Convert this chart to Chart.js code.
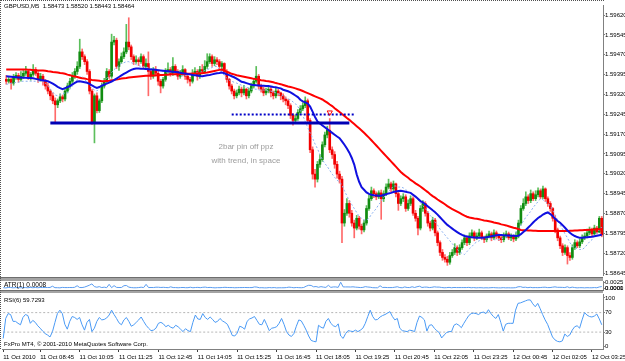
<!DOCTYPE html>
<html>
<head>
<meta charset="utf-8">
<script src="https://cdn.jsdelivr.net/npm/chart.js@4.4.0/dist/chart.umd.min.js"></script>
<style>
html, body { margin: 0; padding: 0; background: #fff; }
#wrap { position: relative; width: 625px; height: 361px; overflow: hidden; }
canvas { position: absolute; left: 0; }
.sep { position: absolute; left: 0; width: 603px; background: #a4a4a4; border-top: 1px solid #6e6e6e; box-sizing: border-box; }
#frame { position: absolute; left: 0; top: 0; width: 604px; height: 349px; border-top: 1px dotted #505050; border-left: 1px dotted #505050; box-sizing: border-box; pointer-events: none; }
</style>
</head>
<body>
<div id="wrap">
  <canvas id="mainChart" width="625" height="280" style="top:0"></canvas>
  <div class="sep" style="top:277px;height:4px"></div>
  <canvas id="atrChart" width="625" height="14" style="top:279px"></canvas>
  <div class="sep" style="top:290px;height:3px"></div>
  <canvas id="rsiChart" width="625" height="68" style="top:293px"></canvas>
  <div id="frame"></div>
</div>
<script>
// prices are stored in points above 1.58000 (1 point = 0.00001)
var PRICE_BASE = 1.58
var POINT = 0.00001

var openPts = [
1377,1370,1377,1363,1385,1392,1377,1389,1400,1407,1385,1396,1414,1400,1377,1389,1370,1352,1333,1315,
1296,1281,1296,1311,1303,1333,1352,1370,1389,1407,1426,1481,1463,1444,1407,1333,1215,1315,1259,1296,
1352,1370,1407,1389,1518,1525,1426,1444,1463,1481,1518,1500,1463,1444,1451,1444,1463,1426,1437,1407,
1389,1414,1400,1370,1352,1377,1407,1414,1400,1426,1407,1389,1400,1414,1389,1377,1370,1400,1407,1389,
1414,1407,1426,1444,1463,1437,1451,1444,1426,1437,1407,1377,1352,1333,1315,1326,1340,1326,1340,1315,
1333,1352,1370,1389,1352,1340,1326,1333,1340,1326,1315,1333,1326,1315,1303,1296,1278,1241,1222,1229,
1252,1266,1278,1296,1222,1111,1019,1000,1056,1074,1130,1167,1185,1111,1093,1056,1019,1000,834,871,
908,871,834,815,852,822,808,834,889,926,956,945,933,948,926,945,970,982,963,982,
945,908,926,933,889,908,926,871,852,815,889,908,871,834,815,845,797,760,723,704,
697,686,711,723,741,723,741,760,778,760,785,797,778,785,797,778,771,785,793,778,
797,785,778,771,785,793,778,785,774,785,834,889,908,933,919,945,926,941,956,933,
963,926,908,889,852,808,778,748,723,741,711,704,741,760,748,763,778,785,797,808,
793,815,800,852]
var highPts = [
1392,1385,1381,1396,1403,1400,1407,1411,1426,1414,1403,1433,1422,1407,1400,1396,1377,1363,1340,1326,
1307,1303,1322,1318,1340,1363,1381,1403,1418,1444,1529,1492,1470,1452,1414,1340,1322,1326,1303,1363,
1381,1418,1414,1548,1540,1533,1455,1477,1496,1585,1610,1507,1470,1466,1459,1474,1470,1455,1481,1414,
1422,1426,1407,1377,1385,1418,1440,1422,1459,1433,1414,1411,1429,1418,1396,1385,1414,1422,1414,1426,
1433,1448,1474,1474,1470,1463,1459,1452,1444,1440,1414,1381,1359,1340,1337,1352,1348,1355,1344,1344,
1363,1381,1426,1396,1359,1348,1344,1352,1348,1333,1344,1340,1329,1322,1311,1303,1285,1248,1244,1263,
1278,1289,1311,1303,1229,1122,1037,1067,1093,1141,1178,1200,1229,1122,1104,1067,1030,1011,885,926,
919,882,845,863,859,830,845,900,941,970,963,952,956,959,956,982,1000,989,993,985,
952,937,945,941,922,937,933,882,859,900,919,915,878,841,856,852,804,767,734,715,
708,723,734,756,748,752,771,789,785,797,808,804,797,811,804,785,793,804,800,808,
804,793,785,797,804,800,793,789,800,845,900,926,952,941,959,952,956,967,963,974,
967,933,915,893,863,815,785,756,752,748,722,752,771,767,774,789,797,811,819,815,
826,822,859,859]
var lowPts = [
1359,1363,1340,1355,1377,1366,1370,1381,1392,1377,1374,1389,1392,1366,1370,1355,1340,1322,1300,1285,
1215,1270,1289,1292,1296,1326,1344,1363,1381,1396,1418,1452,1433,1396,1322,1207,1137,1250,1252,1289,
1344,1363,1381,1381,1507,1418,1411,1437,1455,1474,1489,1452,1433,1437,1429,1437,1418,1418,1315,1377,
1381,1389,1355,1326,1344,1370,1400,1389,1392,1396,1377,1381,1392,1377,1363,1352,1363,1392,1374,1381,
1400,1400,1418,1437,1426,1429,1433,1418,1411,1400,1366,1340,1322,1303,1307,1318,1311,1318,1303,1307,
1326,1344,1363,1340,1329,1315,1318,1326,1311,1303,1307,1315,1300,1292,1281,1266,1229,1204,1215,1222,
1244,1259,1270,1211,1100,1000,970,989,1044,1067,1122,1156,1100,1078,1041,1004,985,760,822,863,
856,822,778,808,811,793,800,826,882,919,930,922,926,848,915,937,963,952,956,933,
882,900,915,878,882,900,863,841,789,808,878,860,822,804,808,785,748,711,693,686,
674,678,704,715,711,715,734,752,748,752,778,767,771,778,771,760,763,778,767,771,
774,767,760,763,778,771,767,763,767,778,826,882,900,908,911,919,919,933,926,926,
915,897,878,841,797,767,737,711,715,679,693,697,734,741,741,756,771,778,789,785,
789,793,797,782]
var closePts = [
1370,1377,1363,1385,1392,1377,1389,1400,1407,1385,1396,1414,1400,1377,1389,1370,1352,1333,1315,1296,
1281,1296,1311,1303,1333,1352,1370,1389,1407,1426,1481,1463,1444,1407,1333,1215,1315,1259,1296,1352,
1370,1407,1389,1518,1525,1426,1444,1463,1481,1518,1500,1463,1444,1451,1444,1463,1426,1437,1407,1389,
1414,1400,1370,1352,1377,1407,1414,1400,1426,1407,1389,1400,1414,1389,1377,1370,1400,1407,1389,1414,
1407,1426,1444,1463,1437,1451,1444,1426,1437,1407,1377,1352,1333,1315,1326,1340,1326,1340,1315,1333,
1352,1370,1389,1352,1340,1326,1333,1340,1326,1315,1333,1326,1315,1303,1296,1278,1241,1222,1229,1252,
1266,1278,1296,1222,1111,1019,1000,1056,1074,1130,1167,1185,1111,1093,1056,1019,1000,834,871,908,
871,834,815,852,822,808,834,889,926,956,945,933,948,926,945,970,982,963,982,945,
908,926,933,889,908,926,871,852,815,889,908,871,834,815,845,797,760,723,704,697,
686,711,723,741,723,741,760,778,760,785,797,778,785,797,778,771,785,793,778,797,
785,778,771,785,793,778,785,774,785,834,889,908,933,919,945,926,941,956,933,963,
926,908,889,852,808,778,748,723,741,711,704,741,760,748,763,778,785,797,808,793,
815,800,852,789]

// moving averages as seen on the chart (red slow, blue fast, light-blue dotted)
var maSlow = [
1414,1414,1414,1414,1414,1414,1414,1414,1414,1413,1413,1412,1412,1411,1411,1411,1410,1408,1407,1405,
1404,1403,1401,1400,1398,1395,1393,1390,1388,1386,1383,1381,1380,1378,1377,1375,1374,1373,1372,1370,
1370,1371,1372,1374,1375,1377,1378,1380,1381,1382,1384,1385,1386,1387,1388,1389,1390,1391,1391,1392,
1392,1393,1393,1394,1394,1395,1395,1396,1396,1396,1397,1397,1397,1398,1398,1398,1399,1399,1399,1400,
1400,1402,1403,1405,1407,1409,1411,1413,1414,1410,1406,1402,1398,1396,1393,1391,1389,1387,1385,1383,
1381,1379,1378,1376,1374,1373,1371,1370,1368,1366,1363,1361,1359,1356,1353,1350,1348,1346,1343,1340,
1337,1333,1329,1325,1321,1317,1313,1309,1305,1301,1295,1289,1282,1276,1268,1261,1254,1246,1239,1231,
1224,1216,1208,1200,1192,1184,1175,1166,1157,1147,1137,1127,1117,1107,1097,1087,1077,1067,1057,1047,
1037,1027,1019,1012,1005,997,991,984,978,972,965,958,951,943,936,930,923,917,911,905,
898,892,887,882,877,872,867,862,858,855,853,851,850,848,846,844,843,841,839,836,
834,832,829,827,825,822,819,816,814,811,808,807,807,806,806,805,805,804,804,804,
804,804,804,804,804,804,804,804,804,804,805,805,806,806,807,807,808,808,809,809,
810,810,811,811]
var maFast = [
1389,1388,1387,1386,1385,1384,1384,1383,1383,1382,1382,1381,1379,1377,1375,1374,1372,1370,1366,1361,
1355,1349,1344,1340,1344,1348,1352,1358,1364,1369,1370,1368,1366,1364,1360,1354,1349,1345,1348,1353,
1357,1361,1365,1369,1374,1380,1386,1392,1398,1403,1408,1413,1416,1418,1418,1417,1417,1416,1415,1414,
1414,1413,1412,1411,1410,1409,1408,1407,1406,1405,1404,1402,1400,1399,1397,1396,1394,1393,1392,1390,
1389,1391,1393,1394,1396,1398,1400,1401,1403,1400,1396,1393,1389,1385,1380,1374,1368,1366,1363,1360,
1357,1356,1355,1354,1353,1353,1352,1352,1350,1348,1347,1345,1343,1338,1335,1332,1328,1322,1316,1310,
1300,1294,1290,1286,1274,1255,1235,1218,1210,1203,1196,1189,1182,1175,1168,1161,1155,1143,1130,1116,
1100,1080,1055,1018,990,970,960,950,944,941,939,938,937,937,940,943,946,948,951,953,
955,956,954,952,950,948,941,934,926,917,912,905,897,890,882,875,866,856,846,836,
827,820,813,806,800,794,789,785,783,781,780,779,778,778,778,779,780,782,784,786,
788,789,789,788,787,787,786,786,785,786,792,800,808,817,826,836,845,853,859,866,
871,874,868,860,850,842,835,826,816,806,797,790,785,781,778,778,779,780,781,782,
784,786,788,790]
var maDotted = [
1359,1359,1363,1363,1366,1366,1370,1370,1370,1370,1370,1370,1370,1370,1370,1370,1363,1352,1340,1329,
1318,1315,1318,1322,1326,1326,1340,1352,1363,1377,1385,1389,1377,1366,1355,1344,1337,1333,1344,1355,
1370,1381,1392,1403,1414,1422,1429,1437,1440,1444,1444,1440,1437,1433,1429,1426,1426,1422,1422,1418,
1418,1414,1414,1411,1407,1407,1403,1403,1400,1400,1396,1392,1389,1392,1392,1396,1400,1400,1403,1403,
1407,1411,1414,1418,1422,1426,1426,1414,1403,1392,1381,1374,1370,1366,1363,1359,1355,1352,1348,1344,
1340,1340,1340,1337,1337,1337,1337,1333,1333,1329,1326,1322,1318,1315,1307,1303,1300,1292,1285,1274,
1259,1241,1218,1196,1174,1155,1133,1115,1093,1074,1059,1048,1033,1019,1007,996,989,978,956,937,
919,904,889,874,859,852,845,845,852,867,878,889,904,915,930,941,952,963,974,974,
970,970,967,959,956,945,937,930,922,911,900,889,878,863,852,837,826,811,800,789,
778,767,756,745,734,726,719,715,726,737,745,756,763,767,771,774,774,774,774,771,
771,771,774,778,782,785,785,789,800,815,826,841,856,867,878,893,904,915,926,922,
915,908,900,882,863,845,826,811,793,778,760,745,741,737,734,734,741,752,763,771,
785,797,808,819]

var rsi6 = [
17,58,68,66,52,52,48,45,60,66,64,48,54,50,43,38,32,27,24,20,
31,50,68,75,68,46,36,52,62,60,56,60,45,34,50,56,31,38,52,60,
55,56,59,65,75,66,58,49,45,55,60,52,42,45,50,55,61,52,44,38,
33,34,38,48,50,47,41,44,40,38,44,41,36,31,37,33,31,50,65,57,
56,68,60,56,61,56,50,52,58,53,50,46,35,23,22,28,42,40,36,52,
57,59,62,54,46,45,56,45,33,38,39,41,48,58,46,31,24,21,27,42,
55,53,44,34,22,13,11,10,44,40,38,52,58,48,43,41,47,22,17,27,
33,32,31,34,31,34,38,48,62,75,62,55,56,61,64,66,69,72,62,55,
58,38,33,32,31,34,33,31,50,63,60,55,32,44,45,38,33,29,18,24,
29,31,31,44,47,44,39,48,56,64,68,69,68,66,70,71,68,76,68,62,
58,66,50,32,46,48,48,48,75,89,90,92,94,96,96,88,82,89,78,66,
55,46,33,20,14,11,10,12,26,21,24,34,41,43,38,55,70,65,62,61,
63,67,57,45]

var priceTicks = [1.58645,1.58720,1.58795,1.58870,1.58945,1.59020,1.59095,1.59170,1.59245,1.59320,1.59395,1.59470,1.59545,1.59620]
var atrTicks = [0.0000, 0.0001, 0.0025]
var rsiTicks = [0, 30, 70, 100]
var rsiLevels = [70, 30]
var tickBars = [0,15,31,47,63,79,95,111,127,143,159,175,191,207,223,239]
var firstTickText = '11 Oct 2010'

// hand drawn objects: [price pts, first bar, last bar]
var zoneLine = [1212, 18, 140]
var dottedLine = [1244, 92, 142]
var arrowMark = [1252, 132]

var headerText = 'GBPUSD,M5  1.58473 1.58520 1.58443 1.58464'
var noteLines = ['2bar pin off ppz', 'with trend, in space']

// bar times, 5 minute bars from 11 Oct 07:30
var barTimes = []
for (let i = 0; i < closePts.length; i++) {
    let m = 7 * 60 + 30 + i * 5
    let day = m >= 1440 ? 12 : 11
    m = m % 1440
    barTimes.push(day + ' Oct ' + String(Math.floor(m / 60)).padStart(2, '0') + ':' + String(m % 60).padStart(2, '0'))
}

function segment(level) {
    return closePts.map((c, i) => (i >= level[1] && i <= level[2]) ? level[0] : null)
}

var bull = closePts.map((c, i) => c >= openPts[i])
var bodyColors = bull.map(b => b ? '#118c11' : '#f20000')
var wickColors = bull.map(b => b ? '#5cbf5c' : '#ff6a6a')

var trueRange = highPts.map((h, i) => {
    var pc = i > 0 ? closePts[i - 1] : openPts[0]
    return (Math.max(h, pc) - Math.min(lowPts[i], pc)) * POINT
})

Chart.defaults.font.family = 'Liberation Sans'
Chart.defaults.color = '#000'

var axisFont = { family: 'Liberation Sans', size: 6 }
var noPlugins = { legend: { display: false }, tooltip: { enabled: false } }

function rightAxis(extra, tickCallback) {
    var ticks = { font: axisFont, color: '#000', padding: 0, autoSkip: false, source: 'data' }
    if (tickCallback) ticks.callback = tickCallback
    return Object.assign({
        position: 'right',
        afterFit: s => { s.width = 22; s.paddingTop = 0; s.paddingBottom = 0 },
        ticks: ticks,
        grid: { drawOnChartArea: false, tickLength: 2, color: '#808080' },
        border: { color: '#808080' }
    }, extra)
}

var mainText = {
    id: 'mainText',
    afterDraw(chart) {
        var ctx = chart.ctx
        ctx.save()
        ctx.font = '6px "Liberation Sans"'
        ctx.fillStyle = '#000'
        ctx.textBaseline = 'top'
        ctx.fillText(headerText, 4, 3)
        ctx.font = '8px "Liberation Sans"'
        ctx.fillStyle = '#9c9c9c'
        ctx.textAlign = 'center'
        ctx.textBaseline = 'middle'
        ctx.fillText(noteLines[0], 246, 147)
        ctx.fillText(noteLines[1], 246, 161)
        ctx.restore()
    }
}

var mainChart = new Chart(document.getElementById('mainChart'), {
    type: 'bar',
    data: {
        labels: barTimes,
        datasets: [
            { type: 'line', data: barTimes.map((t, i) => i === arrowMark[1] ? arrowMark[0] : null),
              showLine: false, pointStyle: 'triangle', rotation: 180, pointRadius: 3,
              borderColor: '#ff0000', backgroundColor: 'rgba(0,0,0,0)', borderWidth: 1, order: 0 },
            { type: 'line', data: segment(zoneLine), borderColor: '#0000b4', borderWidth: 3,
              pointRadius: 0, spanGaps: false, order: 1 },
            { type: 'line', data: segment(dottedLine), borderColor: '#0000c8', borderWidth: 2,
              borderDash: [2, 2], pointRadius: 0, spanGaps: false, order: 1 },
            { type: 'line', data: maFast, borderColor: '#1010e0', borderWidth: 2, pointRadius: 0, order: 2 },
            { type: 'line', data: maSlow, borderColor: '#ff0000', borderWidth: 2, pointRadius: 0, order: 3 },
            { type: 'line', data: maDotted, borderColor: '#8ab0f0', borderWidth: 1, borderDash: [2, 2],
              pointRadius: 0, order: 4 },
            { type: 'bar', data: openPts.map((o, i) => [o, closePts[i]]), backgroundColor: bodyColors,
              barThickness: 2, grouped: false, minBarLength: 1, order: 8 },
            { type: 'bar', data: lowPts.map((l, i) => [l, highPts[i]]), backgroundColor: wickColors,
              barThickness: 1, grouped: false, order: 9 }
        ]
    },
    options: {
        responsive: false,
        animation: false,
        devicePixelRatio: 1,
        events: [],
        layout: { padding: { left: 2, top: 2, right: 0, bottom: 3 } },
        plugins: noPlugins,
        scales: {
            x: { display: false, offset: true, grid: { offset: false } },
            y: rightAxis({
                min: 637.6,
                max: 1658.2,
                afterBuildTicks: s => { s.ticks = priceTicks.map(p => ({ value: Math.round((p - PRICE_BASE) / POINT) })) }
            }, v => (PRICE_BASE + v * POINT).toFixed(5))
        }
    },
    plugins: [mainText]
})

var atrText = {
    id: 'atrText',
    afterDraw(chart) {
        var ctx = chart.ctx
        ctx.save()
        ctx.font = '6.5px "Liberation Sans"'
        ctx.fillStyle = '#000'
        ctx.textBaseline = 'middle'
        ctx.fillText('ATR(1) 0.0008', 4, 6.5)
        ctx.restore()
    }
}

var atrChart = new Chart(document.getElementById('atrChart'), {
    type: 'line',
    data: {
        labels: barTimes,
        datasets: [{ data: trueRange, borderColor: '#5a9cf0', borderWidth: 1, pointRadius: 0 }]
    },
    options: {
        responsive: false,
        animation: false,
        devicePixelRatio: 1,
        events: [],
        layout: { padding: { left: 2, top: 2, right: 0, bottom: 3 } },
        plugins: noPlugins,
        scales: {
            x: { display: false, offset: true },
            y: rightAxis({
                min: -0.0006,
                max: 0.0030,
                afterBuildTicks: s => { s.ticks = atrTicks.map(v => ({ value: v })) }
            }, v => v.toFixed(4))
        }
    },
    plugins: [atrText]
})

var rsiText = {
    id: 'rsiText',
    afterDraw(chart) {
        var ctx = chart.ctx
        ctx.save()
        ctx.font = '6px "Liberation Sans"'
        ctx.fillStyle = '#000'
        ctx.textBaseline = 'middle'
        ctx.fillText('RSI(6) 59.7293', 4, 7)
        ctx.fillText('FxPro MT4, \u00a9 2001-2010 MetaQuotes Software Corp.', 4, 51.5)
        ctx.restore()
    }
}

var rsiChart = new Chart(document.getElementById('rsiChart'), {
    type: 'line',
    data: {
        labels: barTimes,
        datasets: [
            { data: rsi6, borderColor: '#4a9af5', borderWidth: 1, pointRadius: 0, order: 0 },
            { data: barTimes.map(() => rsiLevels[0]), borderColor: '#b4b4b4', borderWidth: 1,
              borderDash: [2, 2], pointRadius: 0, order: 1 },
            { data: barTimes.map(() => rsiLevels[1]), borderColor: '#b4b4b4', borderWidth: 1,
              borderDash: [2, 2], pointRadius: 0, order: 1 }
        ]
    },
    options: {
        responsive: false,
        animation: false,
        devicePixelRatio: 1,
        events: [],
        layout: { padding: { left: 2, top: 1, right: 0, bottom: 0 } },
        plugins: noPlugins,
        scales: {
            x: {
                offset: true,
                afterFit: s => { s.height = 12; s.paddingLeft = 0; s.paddingRight = 0 },
                afterBuildTicks: s => { s.ticks = tickBars.map(v => ({ value: v })) },
                ticks: {
                    font: axisFont, color: '#000', padding: 2, autoSkip: false, maxRotation: 0,
                    align: 'start',
                    callback: (v, i) => i === 0 ? firstTickText : barTimes[v]
                },
                grid: { drawOnChartArea: false, offset: false, tickLength: 3, color: '#404040' },
                border: { color: '#808080' }
            },
            y: rightAxis({
                min: -4.7,
                max: 108.2,
                afterBuildTicks: s => { s.ticks = rsiTicks.map(v => ({ value: v })) }
            }, v => String(v))
        }
    },
    plugins: [rsiText]
})
</script>
</body>
</html>
